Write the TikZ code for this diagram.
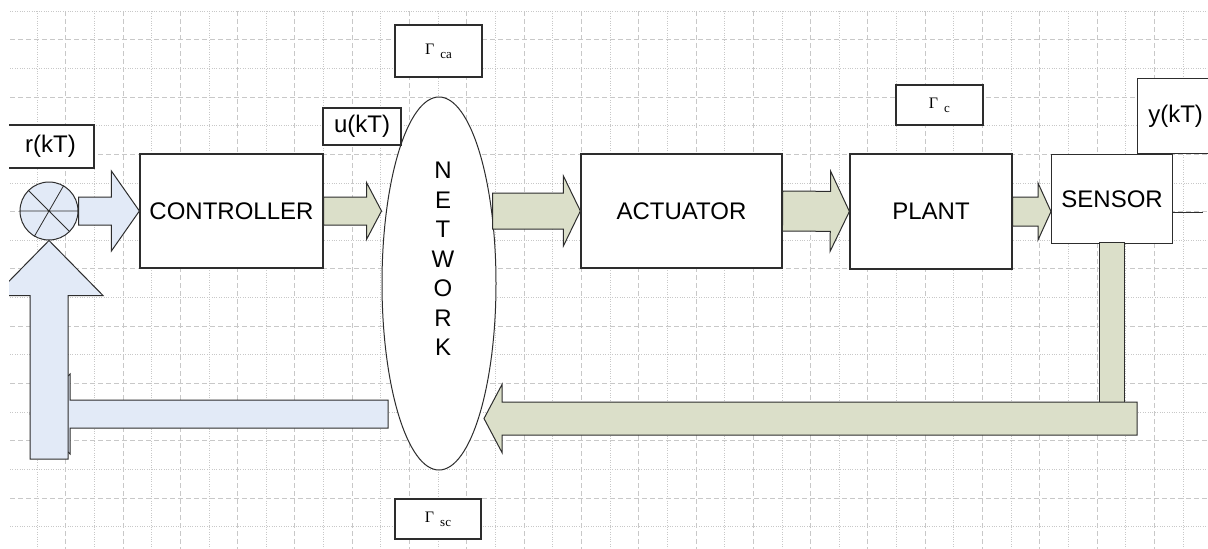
\documentclass[tikz,border=0pt]{standalone}
\usepackage{fontspec}
\setmainfont{Liberation Sans}
\newfontfamily\seriffont{Liberation Serif}
\usetikzlibrary{calc, shapes.geometric}
\definecolor{gridgray}{RGB}{200,200,200}
\definecolor{edgegray}{RGB}{45,45,45}
\definecolor{bluefill}{RGB}{226,234,247}
\definecolor{greenfill}{RGB}{219,223,201}
% delay label: Gamma with a lowered index
\newcommand{\gam}[1]{{\seriffont\fontsize{16}{16}\selectfont Γ\hspace{6pt}\raisebox{-4pt}{\fontsize{13}{13}\selectfont #1}}}
% block arrow: style, from, to, shaft half width, head half width, head length
\newcommand{\fatarrow}[6]{%
  \coordinate (fa-s) at (#2);
  \coordinate (fa-t) at (#3);
  \coordinate (fa-b) at ($(fa-t)!#6!(fa-s)$);
  \draw[#1] ($(fa-s)!#4!90:(fa-t)$) -- ($(fa-b)!#4!90:(fa-t)$) -- ($(fa-b)!#5!90:(fa-t)$)
    -- (fa-t) -- ($(fa-b)!#5!-90:(fa-t)$) -- ($(fa-b)!#4!-90:(fa-t)$) -- ($(fa-s)!#4!-90:(fa-t)$) -- cycle;
}

\begin{document}
\begin{tikzpicture}[x=1pt, y=-1pt,
    block/.style={draw=edgegray, line width=1.2pt, fill=white, inner sep=0pt, font=\fontsize{24}{28}\selectfont},
    gridminor/.style={gridgray, line width=0.8pt, dash pattern=on 1pt off 1.4pt},
    gridmajor/.style={gridgray, line width=0.8pt, dash pattern=on 5pt off 3pt},
    bluearrow/.style={draw=edgegray, line width=1pt, fill=bluefill},
    greenarrow/.style={draw=edgegray, line width=1pt, fill=greenfill}]
    \useasboundingbox[fill=white] (0,0) rectangle (1208,549);
    \clip (9,0) rectangle (1208,549);

    % Grid
    \foreach \i in {0,2,...,40} \draw[gridminor] (37+28.65*\i,11) -- (37+28.65*\i,549);
    \foreach \i in {1,3,...,39} \draw[gridmajor] (37+28.65*\i,11) -- (37+28.65*\i,549);
    \foreach \j in {0,2,...,18} \draw[gridminor] (10,11+28.65*\j) -- (1208,11+28.65*\j);
    \foreach \j in {1,3,...,17} \draw[gridmajor] (10,11+28.65*\j) -- (1208,11+28.65*\j);

    % Network
    \node[ellipse, draw=edgegray, line width=1pt, fill=white, minimum width=114pt, minimum height=373pt, inner sep=0pt] (net) at (439,283.5) {};
    \node[font=\fontsize{24}{29.5}\selectfont, align=center] (netlabel) at (443,259) {N\\E\\T\\W\\O\\R\\K};

    % Loop blocks
    \node[block, minimum width=183pt, minimum height=114pt] (ctrl) at (231.5,211) {CONTROLLER};
    \node[block, minimum width=201pt, minimum height=114pt] (act) at (681.5,211) {ACTUATOR};
    \node[block, minimum width=162pt, minimum height=115pt] (plant) at (931,211.5) {PLANT};
    \node[block, minimum width=121pt, minimum height=89pt, anchor=north west] (sensor) at (1051,154) {SENSOR};

    % Signals
    \node[block, minimum width=87pt, minimum height=43pt] (rkt) at (50.5,146.5) {r(kT)};
    \node[block, minimum width=78pt, minimum height=37pt] (ukt) at (362,126.5) {u(kT)};
    \node[block, minimum width=76pt, minimum height=75pt, anchor=south west] (ykt) at (1137,154) {y(kT)};

    % Delays
    \node[block, minimum width=87pt, minimum height=52pt] (gca) at (438.5,51) {\gam{ca}};
    \node[block, minimum width=87pt, minimum height=40pt] (gc) at (939.5,105) {\gam{c}};
    \node[block, minimum width=86pt, minimum height=40pt] (gsc) at (438,519) {\gam{sc}};

    % Summing junction
    \node[circle, draw=edgegray, line width=1pt, fill=bluefill, minimum size=58pt, inner sep=0pt] (sum) at (49,211) {};
    \draw[edgegray, line width=0.8pt] (sum.west) -- (sum.east) (sum.135) -- (sum.-45) (sum.60) -- (sum.240);

    % Forward path
    \coordinate (netin) at (net.west |- ctrl.east);
    \coordinate (netout) at ($(net.east |- act.west)+(-4,0)$);
    \coordinate (sensin) at (sensor.west |- plant.east);
    \fatarrow{bluearrow}{sum.east}{ctrl.west}{14pt}{40pt}{28pt}
    \fatarrow{greenarrow}{ctrl.east}{netin}{14pt}{28.5pt}{15pt}
    \fatarrow{greenarrow}{netout}{act.west}{18pt}{35pt}{17pt}
    \fatarrow{greenarrow}{act.east}{plant.west}{20pt}{40pt}{19pt}
    \fatarrow{greenarrow}{plant.east}{sensin}{14.5pt}{28.5pt}{13pt}

    % Output line
    \coordinate (yout) at (1203,212);
    \draw[edgegray, line width=1pt] (sensor.east |- yout) -- (yout);

    % Feedback path
    \draw[greenarrow] ($(sensor.south)+(-12.5,-2)$) rectangle ($(sensor.south)+(12.5,159)$);
    \coordinate (fbstart) at (1137,418.5);
    \coordinate (fbtip) at (484,418.5);
    \fatarrow{greenarrow}{fbstart}{fbtip}{16.5pt}{34pt}{18pt}
    \coordinate (bluestart) at (388,414);
    \coordinate (bluetip) at (30,414);
    \fatarrow{bluearrow}{bluestart}{bluetip}{14pt}{40pt}{40pt}
    \coordinate (fbfoot) at (49,459);
    \fatarrow{bluearrow}{fbfoot}{sum.south}{19pt}{54pt}{55pt}
\end{tikzpicture}
\end{document}
